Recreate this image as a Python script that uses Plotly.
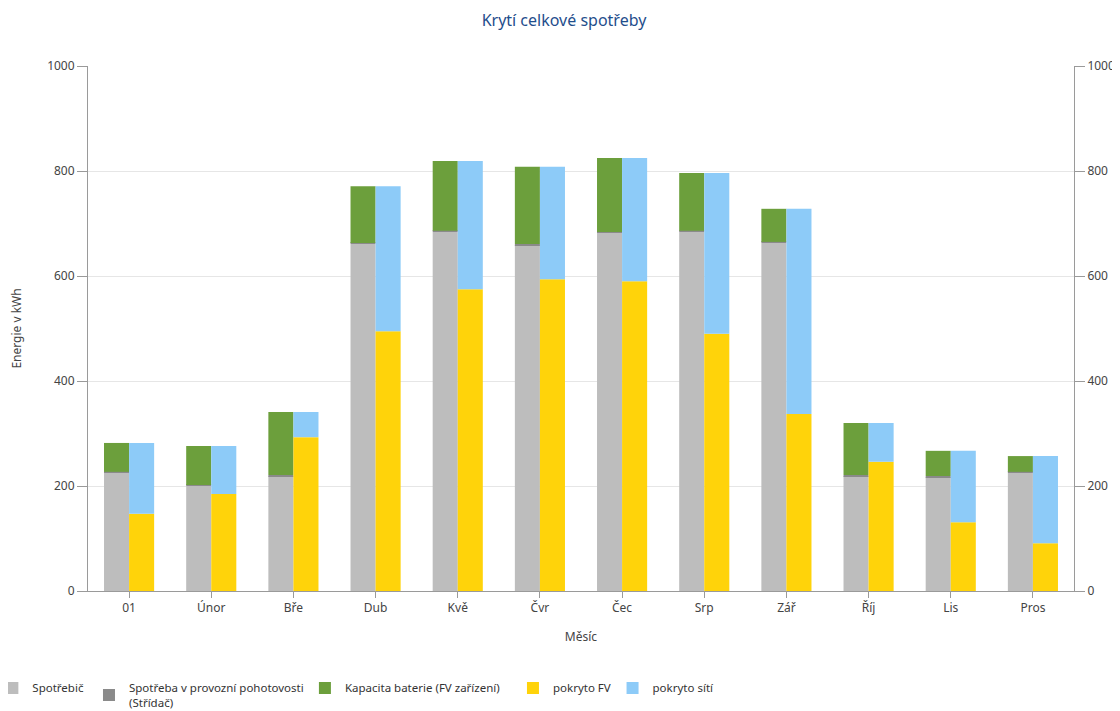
import plotly.graph_objects as go

months = ["01", "Únor", "Bře", "Dub", "Kvě", "Čvr", "Čec", "Srp", "Zář", "Říj", "Lis", "Pros"]
spotrebic = [225, 200, 219, 661, 684, 659, 682, 684, 663, 219, 217, 225]
pohotovost = [2, 2, 2, 2, 2, 2, 2, 2, 2, 2, 2, 2]
baterie = [55, 74, 120, 108, 133, 147, 141, 110, 63, 99, 48, 30]
pokryto_fv = [147, 185, 293, 495, 575, 594, 590, 490, 337, 246, 131, 91]
pokryto_sit = [135, 91, 48, 276, 244, 214, 235, 306, 391, 74, 136, 166]

y_ticks = [0, 200, 400, 600, 800, 1000]

font_family = "Noto Sans, DejaVu Sans, sans-serif"
w = 0.305

def cum(*arrs):
    return [sum(v) for v in zip(*arrs)]

fig = go.Figure()
zeros = [0] * len(months)

fig.add_trace(go.Bar(name="Spotřebič", x=months, y=spotrebic, base=zeros, legend="legend",
                     offset=-w, width=w, marker=dict(color="#BDBDBD", line=dict(width=0))))
fig.add_trace(go.Bar(name="Spotřeba v provozní pohotovosti<br>(Střídač)", x=months, y=pohotovost,
                     base=cum(spotrebic), offset=-w, width=w, legend="legend2",
                     marker=dict(color="#8A8A8A", line=dict(width=0))))
fig.add_trace(go.Bar(name="Kapacita baterie (FV zařízení)", x=months, y=baterie,
                     base=cum(spotrebic, pohotovost), offset=-w, width=w, legend="legend3",
                     marker=dict(color="#6C9F3C", line=dict(width=0))))
fig.add_trace(go.Bar(name="pokryto FV", x=months, y=pokryto_fv, base=zeros, legend="legend4",
                     offset=0, width=w, marker=dict(color="#FFD30A", line=dict(width=0))))
fig.add_trace(go.Bar(name="pokryto sítí", x=months, y=pokryto_sit, base=cum(pokryto_fv),
                     legend="legend5",
                     offset=0, width=w, marker=dict(color="#8DCBF8", line=dict(width=0))))
# invisible trace for the right axis
fig.add_trace(go.Scatter(x=months, y=spotrebic, yaxis="y2", mode="markers",
                         marker=dict(opacity=0), showlegend=False, hoverinfo="skip"))

axis_common = dict(range=[0, 1000], tickvals=y_ticks, ticks="outside", ticklen=10,
                   tickcolor="#9A9A9A", showline=True, linecolor="#9A9A9A", linewidth=1,
                   tickfont=dict(size=12, color="#444444", family=font_family), zeroline=False,
                   automargin=False)

legend_font = dict(size=11.5, color="#333333", family=font_family)
leg_y = -0.157
def leg(xpos):
    return dict(orientation="h", x=xpos, xanchor="left", y=leg_y, yanchor="top",
                font=legend_font, itemwidth=30, bgcolor="rgba(0,0,0,0)")

fig.update_layout(
    width=1112, height=703,
    barmode="overlay",
    paper_bgcolor="white", plot_bgcolor="white",
    font=dict(family=font_family, color="#444444", size=12),
    title=dict(text="Krytí celkové spotřeby", x=0.5, xanchor="center", y=0.983, yanchor="middle",
               font=dict(size=16, color="#1F4E8C", family=font_family)),
    margin=dict(l=80, r=46, t=58, b=120, autoexpand=False),
    xaxis=dict(range=[-0.5, 11.5], ticks="outside", ticklen=6, tickcolor="#9A9A9A",
               showline=True, linecolor="#9A9A9A", showgrid=False, automargin=False,
               tickfont=dict(size=12, color="#444444", family=font_family),
               title=dict(text="Měsíc", font=dict(size=12, color="#444444"), standoff=17)),
    yaxis=dict(**axis_common, showgrid=True, gridcolor="#E6E6E6",
               title=dict(text="Energie v kWh", font=dict(size=12, color="#444444"), standoff=22)),
    yaxis2=dict(**axis_common, overlaying="y", side="right", showgrid=False),
    legend=leg(-0.097),
    legend2=leg(0.001),
    legend3=leg(0.220),
    legend4=leg(0.431),
    legend5=leg(0.532),
    showlegend=True,
)

fig.write_html("out.html")
